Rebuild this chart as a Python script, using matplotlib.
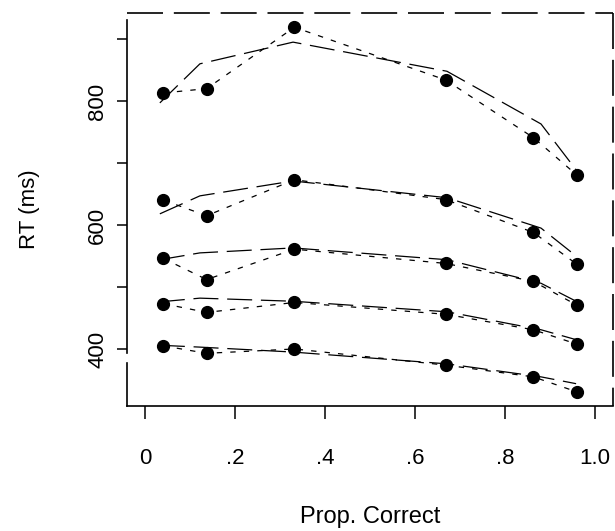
import matplotlib
matplotlib.use("Agg")
import matplotlib.pyplot as plt

plt.rcParams["font.family"] = ["Liberation Sans", "DejaVu Sans"]

# proportion correct per condition (observed data and model predictions)
prop_obs = [0.041, 0.137, 0.332, 0.668, 0.863, 0.959]
prop_model = [0.033, 0.122, 0.329, 0.671, 0.880, 0.958]

# RT quantiles (ms), one row per quantile, slowest first
rt_obs = [
    [813, 820, 919, 834, 741, 681],
    [640, 615, 673, 641, 588, 537],
    [546, 512, 561, 538, 509, 471],
    [473, 459, 475, 456, 431, 408],
    [405, 393, 400, 374, 355, 331],
]
rt_model = [
    [797, 860, 895, 848, 763, 689],
    [618, 647, 671, 644, 595, 550],
    [544, 555, 563, 544, 506, 477],
    [476, 482, 477, 460, 431, 415],
    [406, 403, 395, 376, 355, 344],
]

y_ticks = [400, 500, 600, 700, 800, 900]
y_labels = ["400", "", "600", "", "800", ""]
x_ticks = [0, 0.2, 0.4, 0.6, 0.8, 1.0]
x_labels = ["0", ".2", ".4", ".6", ".8", "1.0"]

fig = plt.figure(figsize=(6.15, 5.31), dpi=100)
ax = fig.add_axes([127 / 615, 1 - 406 / 531, 486 / 615, 393 / 531])

for obs, mod in zip(rt_obs, rt_model):
    ax.plot(prop_model, mod, color="black", lw=0.9, dashes=(20, 7))
    ax.plot(prop_obs, obs, color="black", lw=0.9, dashes=(4.3, 6.5))
    ax.plot(prop_obs, obs, "o", color="black", ms=8.5, ls="none")

ax.set_xlim(-0.04, 1.04)
ax.set_ylim(308, 942)

ax.set_xticks(x_ticks)
ax.set_xticklabels(x_labels)
ax.set_yticks(y_ticks)
ax.set_yticklabels(y_labels, rotation=90, va="center")

ax.tick_params(axis="x", length=9.5, width=1.1, pad=21, labelsize=16)
ax.tick_params(axis="y", length=7.5, width=1.1, pad=6, labelsize=16)

# frame: solid bottom/left, dashed top/right
for s in ax.spines.values():
    s.set_visible(False)
kw = dict(transform=ax.transAxes, color="black", lw=1.2, clip_on=False)
ax.plot([0, 1], [0, 0], **kw)
ax.plot([0, 0], [0.135, 0.982], **kw)
ax.plot([0, 0], [0, 0.109], **kw)
ax.plot([0, 1], [1, 1], dashes=(21.6, 6.5), **kw)
ax.plot([1, 1], [1, 0], dashes=(21.6, 6.5), **kw)

fig.text(370 / 615, 1 - 517 / 531, "Prop. Correct", ha="center", va="center", fontsize=17)
fig.text(30 / 615, 1 - 209 / 531, "RT (ms)", ha="center", va="center", rotation=90, fontsize=16)

fig.savefig("out.png", dpi=100)
